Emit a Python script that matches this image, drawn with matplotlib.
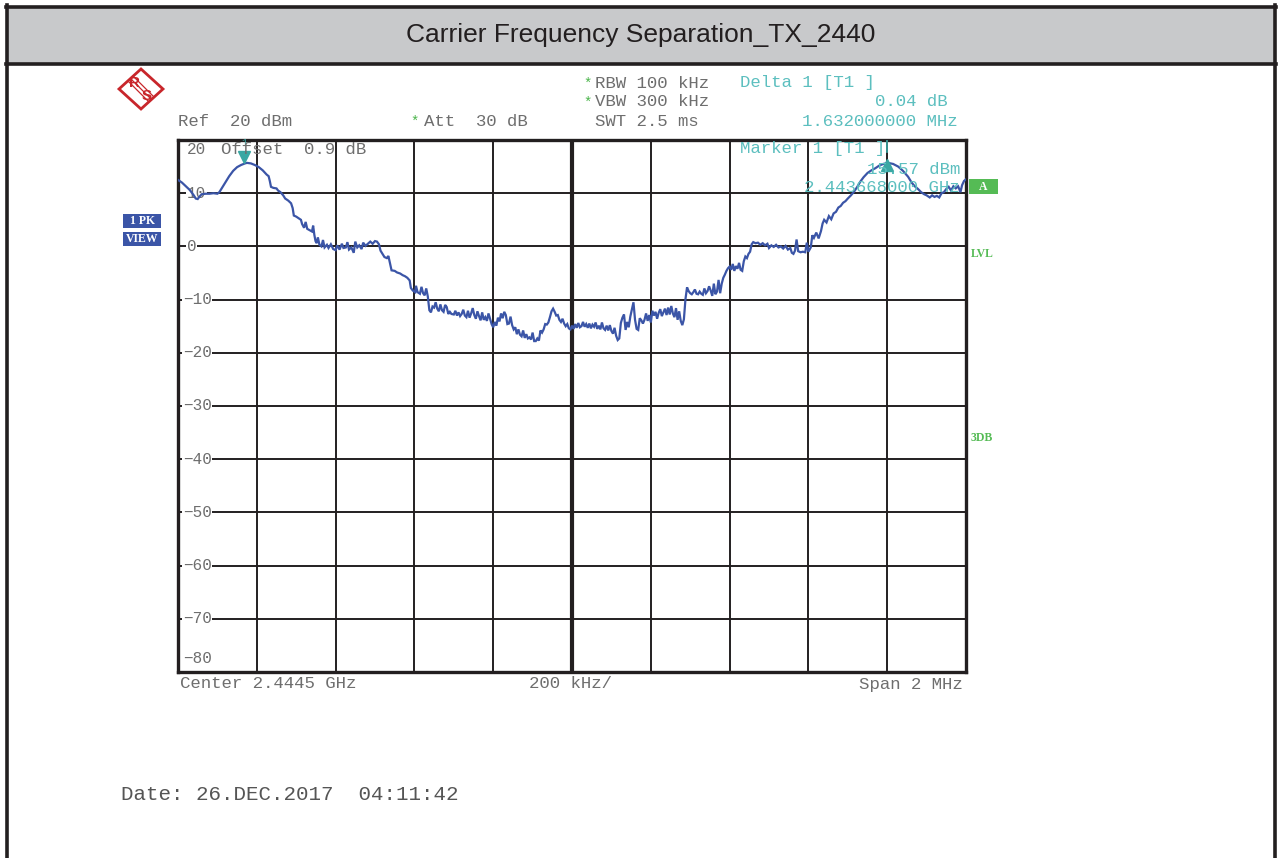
import matplotlib
matplotlib.use("Agg")
import matplotlib.pyplot as plt
from matplotlib.patches import Rectangle, Polygon

W, H = 1280, 858

# ---------------- data ----------------
title = "Carrier Frequency Separation_TX_2440"
center_ghz = 2.4445
span_khz = 2000
y_ticks = [20, 10, 0, -10, -20, -30, -40, -50, -60, -70, -80]
x_grid_khz = [-1000, -800, -600, -400, -200, 0, 200, 400, 600, 800, 1000]

freq_khz = [
    -1000, -990, -980, -970, -960, -955, -950, -945, -940, -930, -920, -910, -900, -895, -890,
    -880, -870, -860, -850, -840, -830, -825, -815, -805, -795, -785, -775, -770, -767, -764,
    -758, -750, -746, -740, -733, -728, -720, -713, -709, -706, -700, -694, -688, -685, -680,
    -676, -672, -665, -660, -657, -654, -651, -648, -645, -641, -636, -632, -628, -622, -618,
    -612, -606, -600, -596, -590, -584, -580, -574, -570, -566, -560, -554, -550, -545, -540,
    -534, -530, -524, -518, -512, -506, -500, -495, -490, -486, -480, -476, -470, -466, -462,
    -458, -450, -444, -436, -430, -424, -418, -412, -409, -404, -398, -396, -392, -386, -382,
    -378, -374, -370, -366, -362, -358, -354, -350, -346, -342, -338, -334, -330, -326, -322,
    -318, -314, -310, -306, -300, -296, -292, -288, -284, -280, -276, -272, -268, -264, -260,
    -256, -252, -248, -244, -240, -236, -232, -228, -224, -220, -216, -212, -208, -204, -200,
    -196, -192, -188, -184, -180, -176, -172, -168, -164, -160, -156, -152, -148, -144, -140,
    -136, -132, -128, -124, -120, -116, -112, -108, -104, -100, -96, -92, -88, -84, -80,
    -76, -72, -68, -64, -60, -56, -52, -48, -44, -40, -36, -32, -28, -24, -20,
    -16, -12, -8, -4, 0, 4, 8, 12, 16, 20, 24, 28, 32, 36, 40,
    44, 48, 52, 56, 60, 64, 68, 72, 76, 80, 84, 88, 92, 96, 100,
    104, 108, 112, 116, 120, 124, 128, 132, 136, 140, 144, 148, 152, 156, 160,
    164, 168, 172, 176, 180, 184, 188, 192, 196, 200, 204, 208, 212, 216, 220,
    224, 228, 232, 236, 240, 244, 248, 252, 256, 260, 264, 268, 272, 276, 280,
    284, 288, 292, 296, 300, 304, 308, 312, 316, 320, 324, 328, 332, 336, 340,
    344, 348, 352, 356, 360, 364, 368, 372, 376, 380, 384, 388, 392, 396, 400,
    404, 408, 412, 416, 420, 424, 428, 432, 436, 440, 444, 448, 452, 456, 460,
    466, 472, 478, 484, 490, 496, 500, 506, 512, 518, 524, 530, 536, 542, 548,
    554, 558, 562, 566, 570, 574, 580, 586, 592, 596, 600, 606, 610, 614, 620,
    626, 632, 636, 640, 646, 652, 658, 664, 670, 676, 682, 688, 694, 700, 708,
    716, 724, 732, 740, 750, 760, 770, 780, 790, 802, 815, 828, 840, 853, 862,
    870, 878, 886, 894, 900, 908, 914, 920, 926, 932, 938, 944, 950, 956, 962,
    968, 974, 980, 986, 990, 995, 1000,
]

level_dbm = [
    12.5, 12.0, 11.3, 10.6, 9.6, 9.0, 8.9, 9.4, 9.8, 9.9, 9.9, 10.0, 9.9, 10.2, 10.8,
    12.0, 13.2, 14.2, 14.9, 15.3, 15.6, 15.7, 15.6, 15.3, 14.9, 14.3, 13.5, 13.2, 12.3, 11.2,
    11.0, 10.9, 10.5, 10.2, 9.6, 9.0, 8.6, 8.1, 7.2, 5.8, 5.6, 5.3, 5.0, 4.2, 3.5,
    4.6, 3.3, 3.0, 2.8, 3.9, 2.2, 1.0, 0.6, 1.7, 0.3, 0.0, 1.2, -0.2, 0.3, -0.3,
    0.4, -0.5, -0.7, 0.2, -0.6, 0.5, -0.3, -0.2, 0.8, -0.6, -0.2, -1.2, 0.9, -0.2, 0.2,
    -0.5, 0.7, 0.1, 0.5, 0.9, 0.5, 1.0, 0.9, 0.4, -0.8, -1.5, -2.0, -2.2, -1.8, -3.2,
    -4.5, -4.6, -4.9, -5.1, -5.4, -5.6, -5.9, -6.4, -7.8, -8.3, -8.6, -7.4, -8.6, -8.9, -7.6,
    -8.8, -9.2, -7.9, -9.4, -12.0, -12.4, -11.3, -11.5, -10.5, -11.7, -12.2, -10.9, -12.0, -12.3, -11.0,
    -11.4, -12.7, -12.3, -12.7, -12.8, -12.1, -13.0, -12.4, -13.1, -12.7, -11.9, -13.0, -13.3, -12.1, -13.4,
    -12.6, -11.6, -12.9, -13.6, -12.2, -13.1, -13.9, -12.4, -13.8, -13.3, -14.0, -12.6, -13.6, -14.6, -15.2,
    -14.2, -14.9, -13.4, -14.1, -12.6, -13.5, -12.3, -12.9, -14.6, -14.5, -13.2, -14.8, -15.6, -15.2, -16.5,
    -15.6, -16.6, -16.9, -15.8, -17.2, -16.5, -17.3, -17.1, -17.5, -16.2, -17.8, -17.8, -17.3, -17.7, -15.8,
    -16.2, -15.6, -14.6, -14.7, -14.3, -13.3, -12.2, -11.7, -12.3, -13.0, -12.9, -13.8, -14.2, -13.6, -14.5,
    -15.0, -14.6, -15.4, -15.6, -14.9, -15.5, -14.6, -15.3, -14.4, -15.2, -15.0, -14.2, -15.1, -14.6, -15.3,
    -14.5, -15.4, -14.7, -15.1, -14.3, -15.5, -14.9, -15.6, -14.3, -15.4, -15.7, -14.9, -15.8, -14.8, -15.9,
    -16.4, -15.3, -16.8, -17.6, -17.3, -14.4, -13.4, -12.8, -15.7, -14.2, -15.2, -13.2, -11.8, -10.5, -13.8,
    -15.5, -15.7, -13.5, -13.9, -14.5, -13.8, -12.6, -14.0, -12.9, -14.3, -12.1, -13.0, -12.3, -13.6, -12.5,
    -11.8, -13.1, -12.4, -11.7, -12.9, -11.5, -12.8, -11.2, -12.6, -13.3, -11.6, -13.8, -12.2, -14.0, -14.8,
    -13.7, -9.9, -7.7, -8.4, -8.8, -9.0, -8.6, -8.1, -8.9, -9.0, -8.5, -8.9, -9.1, -7.9, -8.8,
    -8.4, -7.5, -8.3, -9.3, -7.0, -9.0, -8.5, -6.3, -8.8, -7.0, -5.9, -5.3, -4.6, -4.1, -3.8,
    -4.4, -3.3, -4.6, -3.7, -4.2, -3.1, -4.4, -4.6, -2.8, -1.9, -2.2, -1.4, -1.0, 0.4, 0.8,
    0.6, 0.7, 0.3, 0.6, 0.2, 0.5, -0.3, 0.2, -0.1, 0.3, -0.2, 0.0, -0.4, 0.1, -0.6,
    -0.3, -1.2, -1.4, -0.8, 1.3, -0.9, -1.1, -1.0, -1.1, 0.7, -1.0, -0.2, 2.1, 1.6, 2.6,
    1.5, 2.9, 4.3, 5.0, 4.5, 5.7, 5.1, 6.2, 6.5, 7.3, 7.6, 8.2, 8.5, 9.0, 9.6,
    10.3, 11.2, 12.2, 13.0, 13.8, 14.3, 14.7, 15.2, 15.5, 15.7, 15.5, 15.0, 14.2, 13.1, 12.0,
    11.3, 10.8, 10.2, 9.8, 9.6, 9.2, 9.6, 9.3, 9.5, 9.2, 10.0, 10.2, 10.8, 11.2, 10.5,
    11.3, 10.9, 11.3, 10.2, 11.5, 12.3, 12.6,
]

marker1_khz, marker1_dbm = -832, 15.57
delta1_khz, delta1_db = 800, 0.04

# ---------------- figure ----------------
plt.rcParams["font.family"] = ["Liberation Mono", "DejaVu Sans Mono"]
fig = plt.figure(figsize=(W / 100, H / 100), dpi=100)
fig.patch.set_facecolor("white")

GRAY = "#6e6e6e"


def fx(x):
    return x / W


def fy(y):
    return 1 - y / H


def ftxt(x, y, s, **kw):
    kw.setdefault("va", "center")
    kw.setdefault("fontsize", 12.5)
    kw.setdefault("color", GRAY)
    return fig.text(fx(x), fy(y), s, **kw)


# page frame & header
fig.patches.append(Rectangle((fx(7), fy(64)), fx(1268), 57 / H, transform=fig.transFigure,
                             facecolor="#c8c9cb", edgecolor="none", zorder=0))
for xs, ys in [([7, 7], [5, 858]), ([1275, 1275], [5, 858]), ([6, 1276], [7, 7]), ([6, 1276], [64, 64])]:
    fig.add_artist(plt.Line2D([fx(v) for v in xs], [fy(v) for v in ys], color="#231f20", lw=2.6))
fig.text(fx(641), fy(35), title, ha="center", va="center", fontsize=19,
         family="Liberation Sans", color="#231f20")

# plot area
ax = fig.add_axes([fx(178), fy(672), 788 / W, 532 / H])
ax.set_xlim(-span_khz / 2, span_khz / 2)
ax.set_ylim(-80, 20)
ax.set_xticks([])
ax.set_yticks([])
for sp in ax.spines.values():
    sp.set_linewidth(2.4)
    sp.set_color("#231f20")
for xg in x_grid_khz[1:-1]:
    ax.axvline(xg, color="#231f20", lw=3.0 if xg == 0 else 1.4, zorder=1)
for yg in y_ticks[1:-1]:
    ax.axhline(yg, color="#231f20", lw=1.4, zorder=1)

# y labels inside the plot
for v in y_ticks:
    yy = v
    if v == 20:
        yy = 18.3
    elif v == -80:
        yy = -77.4
    lab = "\u2212" + str(-v) if v < 0 else str(v)
    ax.text(-988 if v < 0 else -978, yy, lab, ha="left", va="center", fontsize=11.5,
            color=GRAY, zorder=3,
            bbox=dict(facecolor="white", edgecolor="none", pad=0.6) if v not in (20, -80) else None)

# trace
ax.plot(freq_khz, level_dbm, color="#3b55a7", lw=1.6, zorder=4, solid_joinstyle="miter")

# markers
teal = "#3aa7a3"
ax.plot([marker1_khz], [marker1_dbm + 1.3], marker="v", ms=8, color=teal, zorder=5, clip_on=False)
ax.text(marker1_khz, 19.4, "1", ha="center", va="center", fontsize=7, color=teal, zorder=5)
ax.plot([delta1_khz], [marker1_dbm + delta1_db - 0.3], marker="^", ms=8, color=teal, zorder=5)
ax.plot([delta1_khz, delta1_khz], [20, 17.8], color=teal, lw=1.2, zorder=5)

# header texts
star = "#4cb54c"
mk = "#5cbfbf"
ftxt(178, 121, "Ref  20 dBm")
fig.text(fx(415), fy(122), "*", ha="center", va="center", fontsize=10, color=star)
ftxt(424, 121, "Att  30 dB")
fig.text(fx(588), fy(84), "*", ha="center", va="center", fontsize=10, color=star)
ftxt(595, 83, "RBW 100 kHz")
fig.text(fx(588), fy(103), "*", ha="center", va="center", fontsize=10, color=star)
ftxt(595, 102, "VBW 300 kHz")
ftxt(595, 121, "SWT 2.5 ms")
ftxt(740, 83, "Delta 1 [T1 ]", color=mk)
ftxt(948, 102, "0.04 dB", ha="right", color=mk)
ftxt(958, 121, "1.632000000 MHz", ha="right", color=mk)
ftxt(740, 149, "Marker 1 [T1 ]", color=mk)
ftxt(960, 169, "15.57 dBm", ha="right", color=mk)
ftxt(960, 188, "2.443668000 GHz", ha="right", color=mk)
ftxt(221, 149, "Offset  0.9 dB")

# bottom texts
ftxt(180, 684, "Center 2.4445 GHz")
ftxt(529, 684, "200 kHz/")
ftxt(963, 684, "Span 2 MHz", ha="right")
ftxt(121, 794, "Date: 26.DEC.2017  04:11:42", fontsize=15, color="#555555")

# left trace boxes
blue = "#3b55a7"
for (y0, s) in [(214, "1 PK"), (232, "VIEW")]:
    fig.patches.append(Rectangle((fx(123), fy(y0 + 14)), 38 / W, 14 / H, transform=fig.transFigure,
                                 facecolor=blue, edgecolor="none"))
    fig.text(fx(142), fy(y0 + 7), s, ha="center", va="center", fontsize=8.5,
             color="white", fontweight="bold", family="Liberation Serif")

# right side labels
green = "#55bb55"
fig.patches.append(Rectangle((fx(969), fy(194)), 29 / W, 15 / H, transform=fig.transFigure,
                             facecolor=green, edgecolor="none"))
fig.text(fx(983.5), fy(186.5), "A", ha="center", va="center", fontsize=8.5,
         color="white", fontweight="bold", family="Liberation Serif")
fig.text(fx(971), fy(254), "LVL", ha="left", va="center", fontsize=8.5, color=green,
         family="Liberation Serif", fontweight="bold")
fig.text(fx(971), fy(438), "3DB", ha="left", va="center", fontsize=8.5, color=green,
         family="Liberation Serif", fontweight="bold")

# R&S logo
red = "#c8262b"
cx, cy = 141, 89
dw, dh = 22, 20
fig.add_artist(Polygon([(fx(cx), fy(cy - dh)), (fx(cx + dw), fy(cy)), (fx(cx), fy(cy + dh)),
                        (fx(cx - dw), fy(cy))], closed=True, transform=fig.transFigure,
                       facecolor="none", edgecolor=red, lw=2.0))
for off in (-2.5, 0, 2.5):
    fig.add_artist(plt.Line2D([fx(cx - 10 + off), fx(cx + 10 + off)],
                              [fy(cy - 10 - off), fy(cy + 10 - off)], color=red, lw=0.9))
fig.text(fx(cx - 6), fy(cy - 6), "R", ha="center", va="center", fontsize=11, color=red,
         fontweight="bold", family="Liberation Sans")
fig.text(fx(cx + 6), fy(cy + 7), "S", ha="center", va="center", fontsize=11, color=red,
         fontweight="bold", family="Liberation Sans")

fig.savefig("out.png", dpi=100)
